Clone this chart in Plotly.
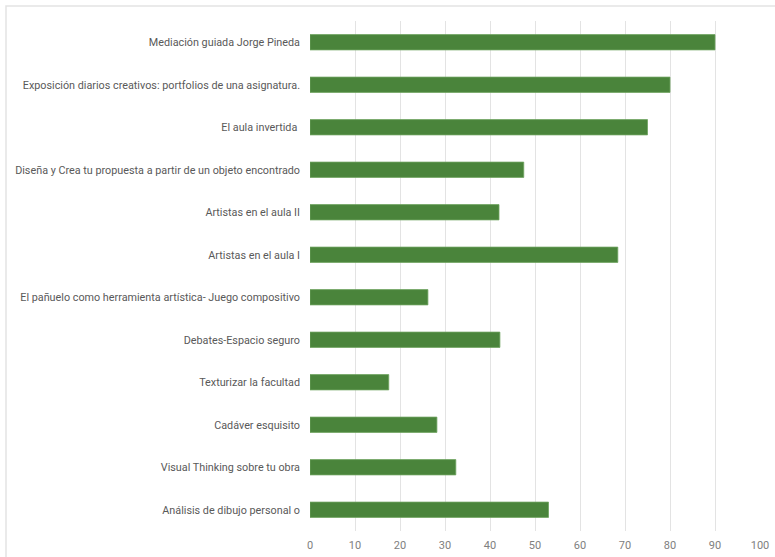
import plotly.graph_objects as go

categories = [
    "Análisis de dibujo personal o",
    "Visual Thinking sobre tu obra",
    "Cadáver esquisito",
    "Texturizar la facultad",
    "Debates-Espacio seguro",
    "El pañuelo como herramienta artística- Juego compositivo",
    "Artistas en el aula I",
    "Artistas en el aula II",
    "Diseña y Crea tu propuesta a partir de un objeto encontrado",
    "El aula invertida ",
    "Exposición diarios creativos: portfolios de una asignatura.",
    "Mediación guiada Jorge Pineda",
]
values = [53, 32.4, 28.2, 17.5, 42.2, 26.2, 68.4, 42, 47.5, 75, 80, 90]
x_ticks = [0, 10, 20, 30, 40, 50, 60, 70, 80, 90, 100]

W, H = 775, 557
ml, mr, mt, mb = 310, 15, 21, 26
pw, ph = W - ml - mr, H - mt - mb

fig = go.Figure(go.Bar(
    y=categories, x=values, orientation="h",
    marker=dict(color="#4A843B", line=dict(color="#6FA35F", width=0.8)),
    width=0.36,
))

fig.update_layout(
    width=W, height=H,
    margin=dict(l=ml, r=mr, t=mt, b=mb, autoexpand=False),
    paper_bgcolor="white", plot_bgcolor="white",
    font=dict(family="Roboto", size=10.8, color="#595959"),
    showlegend=False,
    xaxis=dict(
        range=[0, 100], tickvals=x_ticks, showgrid=True, automargin=False,
        gridcolor="#E3E3E3", gridwidth=1, zeroline=False,
        showline=False, ticks="", tickfont=dict(size=11, color="#808080"),
        ticklabelstandoff=6,
    ),
    yaxis=dict(
        showgrid=False, zeroline=False, showline=False, ticks="", automargin=False,
        ticklabelstandoff=9, tickfont=dict(size=10.8, color="#595959"),
        range=[-0.5, len(categories) - 0.5],
    ),
    shapes=[dict(
        type="rect", xref="paper", yref="paper",
        x0=(6 - ml) / pw, x1=(W + 10 - ml) / pw,
        y0=(H - mb - (H + 10)) / ph, y1=(H - mb - 6) / ph,
        line=dict(color="#E3E3E3", width=1.5), fillcolor="rgba(0,0,0,0)",
        layer="below",
    )],
)

fig.write_html(
    "out.html",
    config={"displayModeBar": False},
    post_script="document.body.style.margin='0';document.body.style.overflow='hidden';"
                "document.documentElement.style.overflow='hidden';",
)
